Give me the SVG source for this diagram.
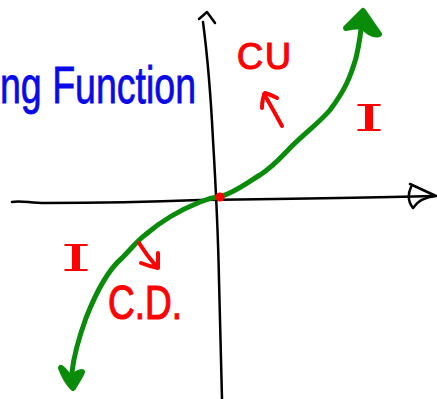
<svg xmlns="http://www.w3.org/2000/svg" width="437" height="399" viewBox="0 0 437 399">
<style>
.ax{fill:none;stroke:#000;stroke-width:2.5;stroke-linecap:round;stroke-linejoin:round}
.gr{fill:none;stroke:#0a8c0a;stroke-width:5;stroke-linecap:round;stroke-linejoin:round}
.gh{fill:#0a8c0a;stroke:#0a8c0a;stroke-width:6;stroke-linecap:round;stroke-linejoin:round}
.rd{fill:none;stroke:#ff0000;stroke-width:4;stroke-linecap:round;stroke-linejoin:round}
.rt{fill:#ff0000;stroke:#ff0000;stroke-width:1.2;font-family:"Liberation Sans",sans-serif}
.ri{fill:#ff0000;font-family:"DejaVu Serif",serif}
.bt{fill:#0a0ae6;stroke:#0a0ae6;stroke-width:0.8;font-family:"Liberation Sans",sans-serif}
</style>
<rect width="437" height="399" fill="#fff"/>
<g id="axes">
<path class="ax" d="M203,22 C208,60 211,100 213,140 C216,190 218,230 219,280 C220,330 221,370 222,399"/>
<path class="ax" d="M199,19 L207,12 L215,23"/>
<path class="ax" d="M12,202 C20,200 30,203 45,203 C100,203 150,202 200,200 C280,199 360,198 433,196"/>
<path class="ax" d="M410,184 L436,196 M411,187 C407,196 409,203 413,208 C418,200 426,197 436,196"/>
</g>
<g id="curve">
<path class="gr" d="M72,372 C74,355 78,340 86,318 C95,295 108,270 122,258 C130,250 138,240 145,235 C160,222 180,210 200,202 C210,198 215,197 222,196 C235,192 245,184 260,175 C275,165 283,155 290,148 C305,133 320,122 330,110 C345,90 350,78 356,58 C359,45 361,35 362,18"/>
<path class="gh" d="M346,28 L363,11 C368,18 373,26 379,34 C372,36 366,30 362,26 C357,26 352,27 346,28 Z"/>
<path class="gh" d="M61,368 C64,376 68,383 73,388 C77,381 80,377 82,372 C78,372 74,376 70,378 C67,374 64,370 61,368 Z"/>
</g>
<circle id="origin" cx="220" cy="197" r="4.5" fill="#ff0000"/>
<g id="title">
<text class="bt" x="0" y="103" font-size="52" textLength="196" lengthAdjust="spacingAndGlyphs">ng Function</text>
</g>
<g id="cu">
<text class="rt" x="237" y="69" font-size="36" letter-spacing="2">CU</text>
<path class="rd" d="M282,126 C276,115 270,104 264,94 M262,108 C262,102 263,97 265,93 C269,94 273,96 277,98"/>
</g>
<g id="i-right">
<text class="ri" x="353" y="131" font-size="38" textLength="32" lengthAdjust="spacingAndGlyphs">I</text>
</g>
<g id="i-left">
<text class="ri" x="60" y="271" font-size="38" textLength="32" lengthAdjust="spacingAndGlyphs">I</text>
</g>
<g id="cd">
<path class="rd" d="M139,243 C144,251 150,259 156,266 M141,263 C146,265 152,267 158,268 C158,263 158,258 158,253"/>
<text class="rt" x="108" y="319" font-size="48" textLength="74" lengthAdjust="spacingAndGlyphs">C.D.</text>
</g>
</svg>
